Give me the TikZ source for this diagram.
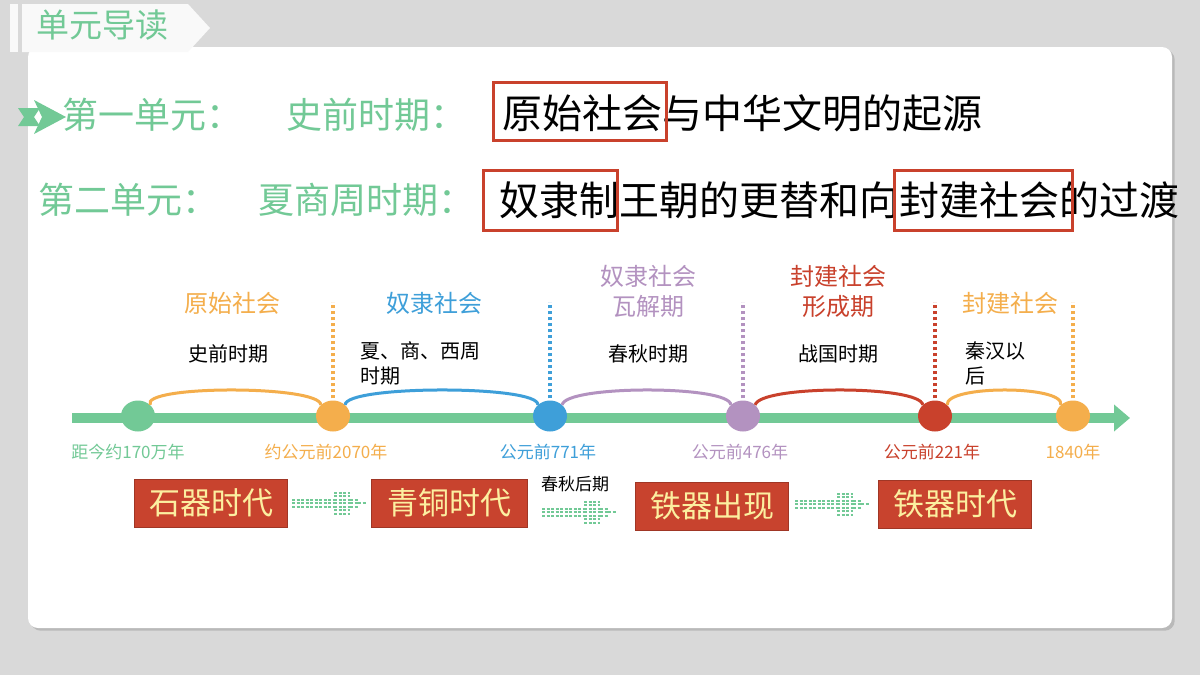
\documentclass[tikz,border=0pt]{standalone}
\usepackage{fontspec}
\setmainfont{Noto Sans CJK SC}
\usetikzlibrary{arrows.meta,shadows,shapes.geometric}
\definecolor{gr}{HTML}{72C996}
\definecolor{og}{HTML}{F4AE4C}
\definecolor{bl}{HTML}{3E9FD9}
\definecolor{pu}{HTML}{B392C0}
\definecolor{rd}{HTML}{C9412C}
\definecolor{bx}{HTML}{C8432E}
\definecolor{yl}{HTML}{FCEFA0}
\begin{document}
\begin{tikzpicture}[x=1pt,y=-1pt,
 big/.style={font=\fontsize{40}{42}\selectfont,inner sep=0pt},
 grn/.style={font=\fontsize{36}{40}\selectfont,inner sep=0pt,text=gr,anchor=west},
 lab/.style={font=\fontsize{24}{30}\selectfont,align=center,inner sep=0pt},
 sm/.style={font=\fontsize{20}{25}\selectfont,align=left,inner sep=0pt},
 dt/.style={font=\fontsize{17}{19}\selectfont,inner sep=0pt},
 dot/.style={line width=4pt,dash pattern=on 3pt off 3pt},
 era/.style={fill=bx,draw=bx!80!black,text=yl,minimum width=153pt,minimum height=48pt,font=\fontsize{31}{33}\selectfont},
 rbox/.style={draw=rd,line width=3pt},
 arc/.style={line width=3pt}]
\useasboundingbox (0,0) rectangle (1200,675);
\fill[gray!30] (0,0) rectangle (1200,675);
\node[fill=white,rounded corners=10pt,drop shadow={opacity=.35},minimum width=1144pt,minimum height=581pt,inner sep=0pt] (card) at (600,337.5) {};
\fill[white!95!gray] (10,4) rectangle (18,52);
\fill[white!95!gray] (22,4) -- (188,4) -- (210,28) -- (188,52) -- (22,52) -- cycle;
\node[font=\fontsize{33}{35}\selectfont,text=gr,anchor=west] (t) at (33,25) {单元导读};
% unit lines
\fill[gr] (18,108) -- (40,108) -- (34,117) -- (40,126) -- (18,126) -- (24,117) -- cycle;
\fill[gr] (34,100) -- (66,117) -- (34,134) -- (42,117) -- cycle;
\node[grn] (u1) at (62,115) {第一单元：};
\node[grn] (u1a) at (286,115) {史前时期：};
\node[big,anchor=west] (u1b) at (502,113) {原始社会与中华文明的起源};
\draw[rbox] (493,82) rectangle (666,140);
\node[grn] (u2) at (38,200) {第二单元：};
\node[grn] (u2a) at (258,200) {夏商周时期：};
\node[big,anchor=west] (u2b) at (499,200) {奴隶制王朝的更替和向封建社会的过渡};
\draw[rbox] (483,170) rectangle (617,230);
\draw[rbox] (894,170) rectangle (1072,230);
% timeline
\coordinate (ts) at (72,418);
\coordinate (te) at (1130,418);
\draw[gr,line width=10pt,-{Triangle[length=16pt,width=26pt]}] (ts) -- (te);
\foreach \n/\x/\c in {c1/138/gr,c2/333/og,c3/550/bl,c4/743/pu,c5/935/rd,c6/1073/og}{
 \node[ellipse,fill=\c,minimum width=34pt,minimum height=31pt,inner sep=0pt] (\n) at (\x,416) {};}
\foreach \n/\c in {c2/og,c3/bl,c4/pu,c5/rd,c6/og}{
 \draw[\c,dot] (\n.north) ++(0,-2) coordinate (a\n) -- ++(0,-96);}
\draw[og,arc] (c1.north east) .. controls (140,385) and (320,385) .. (c2.north west);
\draw[bl,arc] (c2.north east) .. controls (345,385) and (540,385) .. (c3.north west);
\draw[pu,arc] (c3.north east) .. controls (565,385) and (730,385) .. (c4.north west);
\draw[rd,arc] (c4.north east) .. controls (760,385) and (920,385) .. (c5.north west);
\draw[og,arc] (c5.north east) .. controls (945,385) and (1065,385) .. (c6.north west);
% labels
\node[lab,text=og] (l1) at (232,303) {原始社会};
\node[lab,text=bl] (l2) at (434,303) {奴隶社会};
\node[lab,text=pu] (l3) at (648,291) {奴隶社会\\瓦解期};
\node[lab,text=rd] (l4) at (838,291) {封建社会\\形成期};
\node[lab,text=og] (l5) at (1010,303) {封建社会};
\node[sm] (s1) at (228,354) {史前时期};
\node[sm,anchor=north west] (s2) at (360,341) {夏、商、西周\\时期};
\node[sm] (s3) at (648,354) {春秋时期};
\node[sm] (s4) at (838,354) {战国时期};
\node[sm,anchor=north west] (s5) at (965,341) {秦汉以\\后};
\node[dt,text=gr] (d1) at (128,452) {距今约170万年};
\node[dt,text=og] (d2) at (326,452) {约公元前2070年};
\node[dt,text=bl] (d3) at (548,452) {公元前771年};
\node[dt,text=pu] (d4) at (740,452) {公元前476年};
\node[dt,text=rd] (d5) at (932,452) {公元前221年};
\node[dt,text=og] (d6) at (1073,452) {1840年};
% era boxes
\node[era] (e1) at (211,503) {石器时代};
\node[era,minimum width=156pt] (e2) at (449,503) {青铜时代};
\node[era] (e3) at (712,506) {铁器出现};
\node[era] (e4) at (955,504) {铁器时代};
\node[font=\fontsize{17}{19}\selectfont,inner sep=0pt] (cq) at (575,484) {春秋后期};
% dashed arrows
\foreach \x/\y in {292/503,542/512,795/504}{
 \foreach \r in {-1,0,1}{\draw[gr,line width=2pt,dash pattern=on 3pt off 1.5pt] (\x,\y+\r*3.5) -- (\x+42,\y+\r*3.5);}
 \foreach \r in {-3,...,3}{\draw[gr,line width=2pt,dash pattern=on 3pt off 1.5pt] (\x+42,\y+\r*3.5) -- (\x+58,\y+\r*3.5);}
 \foreach \r in {-1,0,1}{\draw[gr,line width=2pt,dash pattern=on 3pt off 1.5pt] (\x+58,\y+\r*3.5) -- (\x+66,\y+\r*3.5);}
 \draw[gr,line width=2pt,dash pattern=on 3pt off 1.5pt] (\x+66,\y) -- (\x+74,\y);
}
\end{tikzpicture}
\end{document}
